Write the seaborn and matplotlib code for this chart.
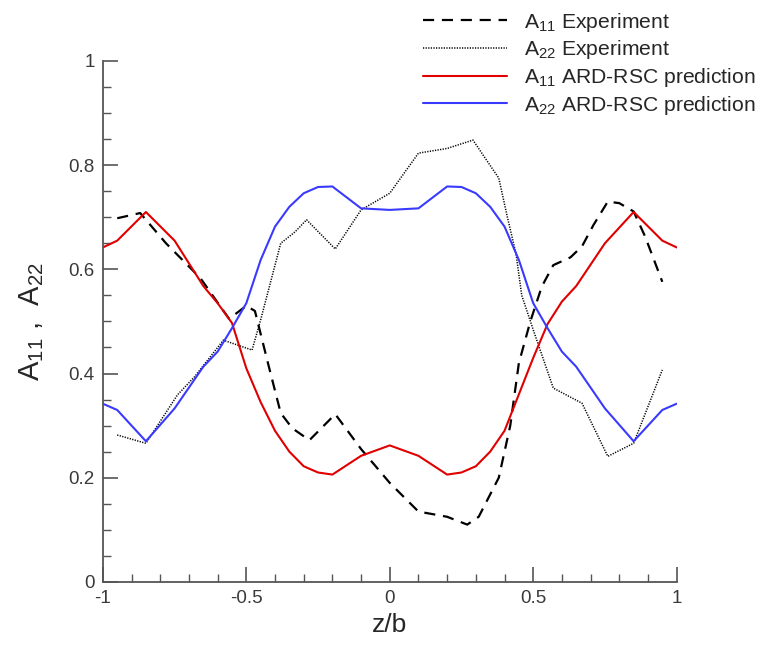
"""
Profils A11 / A22 le long de z/b : experience vs prediction ARD-RSC.
"""

import matplotlib
matplotlib.use("Agg")
import matplotlib.pyplot as plt
from matplotlib.ticker import MultipleLocator
import seaborn as sns
import pandas as pd

# --- donnees ---
z_pred = [-1.0, -0.95, -0.85, -0.75, -0.65, -0.6, -0.55, -0.5, -0.45, -0.4, -0.35,
          -0.3, -0.25, -0.2, -0.1, 0.0, 0.1, 0.2, 0.25, 0.3, 0.35, 0.4, 0.45, 0.5,
          0.55, 0.6, 0.65, 0.75, 0.85, 0.95, 1.0]
a11_pred = [0.642, 0.655, 0.71, 0.655, 0.568, 0.535, 0.497, 0.41, 0.345, 0.29, 0.25,
            0.222, 0.21, 0.206, 0.242, 0.262, 0.242, 0.206, 0.21, 0.222, 0.25, 0.29,
            0.36, 0.43, 0.495, 0.538, 0.568, 0.65, 0.71, 0.655, 0.642]
a22_pred = [0.342, 0.33, 0.27, 0.333, 0.413, 0.442, 0.487, 0.535, 0.618, 0.682, 0.72,
            0.746, 0.758, 0.759, 0.717, 0.714, 0.717, 0.759, 0.758, 0.746, 0.72, 0.682,
            0.618, 0.535, 0.487, 0.442, 0.413, 0.333, 0.27, 0.33, 0.342]

z_exp11 = [-0.95, -0.87, -0.78, -0.66, -0.56, -0.5, -0.47, -0.42, -0.38, -0.34,
           -0.28, -0.19, -0.1, 0.0, 0.1, 0.2, 0.27, 0.31, 0.38, 0.42, 0.45, 0.49,
           0.53, 0.57, 0.63, 0.67, 0.71, 0.76, 0.8, 0.85, 0.89, 0.95]
a11_exp = [0.698, 0.708, 0.65, 0.583, 0.505, 0.53, 0.52, 0.41, 0.324, 0.295,
           0.272, 0.322, 0.255, 0.19, 0.135, 0.125, 0.11, 0.125, 0.2, 0.3, 0.42, 0.5,
           0.567, 0.608, 0.623, 0.644, 0.685, 0.73, 0.727, 0.711, 0.663, 0.576]

z_exp22 = [-0.95, -0.85, -0.74, -0.68, -0.58, -0.48, -0.45, -0.38, -0.33, -0.29,
           -0.19, -0.1, 0.0, 0.1, 0.2, 0.29, 0.38, 0.41, 0.44, 0.46, 0.5, 0.57, 0.67,
           0.76, 0.85, 0.95]
a22_exp = [0.282, 0.266, 0.359, 0.394, 0.464, 0.445, 0.503, 0.65, 0.672, 0.695,
           0.639, 0.714, 0.746, 0.823, 0.832, 0.848, 0.775, 0.70, 0.63, 0.55, 0.484,
           0.372, 0.343, 0.241, 0.266, 0.407]

labels = [r"$\mathregular{A_{11}}$ Experiment",
          r"$\mathregular{A_{22}}$ Experiment",
          r"$\mathregular{A_{11}}$ ARD-RSC prediction",
          r"$\mathregular{A_{22}}$ ARD-RSC prediction"]

sns.set_style("ticks")
plt.rcParams["font.family"] = ["Liberation Sans", "DejaVu Sans"]
plt.rcParams["mathtext.fontset"] = "custom"
plt.rcParams["mathtext.rm"] = "Liberation Sans"

fig = plt.figure(figsize=(7.62, 6.48), dpi=100)
ax = fig.add_axes([0.135, 0.102, 0.753, 0.804])

axis_col = "#555555"

sns.lineplot(data=pd.DataFrame({"z": z_exp11, "a": a11_exp}), x="z", y="a", ax=ax,
             color="black", lw=1.6, label=labels[0])
ax.lines[-1].set_dashes([5, 3.5])
sns.lineplot(data=pd.DataFrame({"z": z_exp22, "a": a22_exp}), x="z", y="a", ax=ax,
             color="black", lw=1.1, label=labels[1])
ax.lines[-1].set_dashes([0.8, 0.9])
sns.lineplot(data=pd.DataFrame({"z": z_pred, "a": a11_pred}), x="z", y="a", ax=ax,
             color="#e00000", lw=1.5, label=labels[2])
sns.lineplot(data=pd.DataFrame({"z": z_pred, "a": a22_pred}), x="z", y="a", ax=ax,
             color="#3a3aff", lw=1.5, label=labels[3])

ax.set_xlim(-1, 1)
ax.set_ylim(0, 1)
ax.xaxis.set_major_locator(MultipleLocator(0.5))
ax.xaxis.set_minor_locator(MultipleLocator(0.1))
ax.yaxis.set_major_locator(MultipleLocator(0.2))
ax.yaxis.set_minor_locator(MultipleLocator(0.05))
ax.xaxis.set_major_formatter(plt.FuncFormatter(lambda v, p: f"{v:g}"))
ax.yaxis.set_major_formatter(plt.FuncFormatter(lambda v, p: f"{v:g}"))

ax.tick_params(which="major", direction="in", length=11, width=1.2, color=axis_col,
               labelsize=13.5, labelcolor="#3a3a3a", pad=6)
ax.tick_params(which="minor", direction="in", length=6, width=1.0, color=axis_col)

for side in ["top", "right"]:
    ax.spines[side].set_visible(False)
for side in ["left", "bottom"]:
    ax.spines[side].set_color(axis_col)
    ax.spines[side].set_linewidth(1.3)

ax.set_xlabel("z/b", fontsize=19, labelpad=4)
ax.set_ylabel(r"$\mathregular{A_{11}}$ ,  $\mathregular{A_{22}}$", fontsize=21, labelpad=16)

handles, labs = ax.get_legend_handles_labels()
ax.get_legend().remove()
fig.legend(handles, labs, loc="upper left", bbox_to_anchor=(0.538, 1.003),
           frameon=False, fontsize=15.2, handlelength=4.0, handletextpad=0.8,
           labelspacing=0.22, borderaxespad=0.2)

fig.savefig("out.png", dpi=100)
